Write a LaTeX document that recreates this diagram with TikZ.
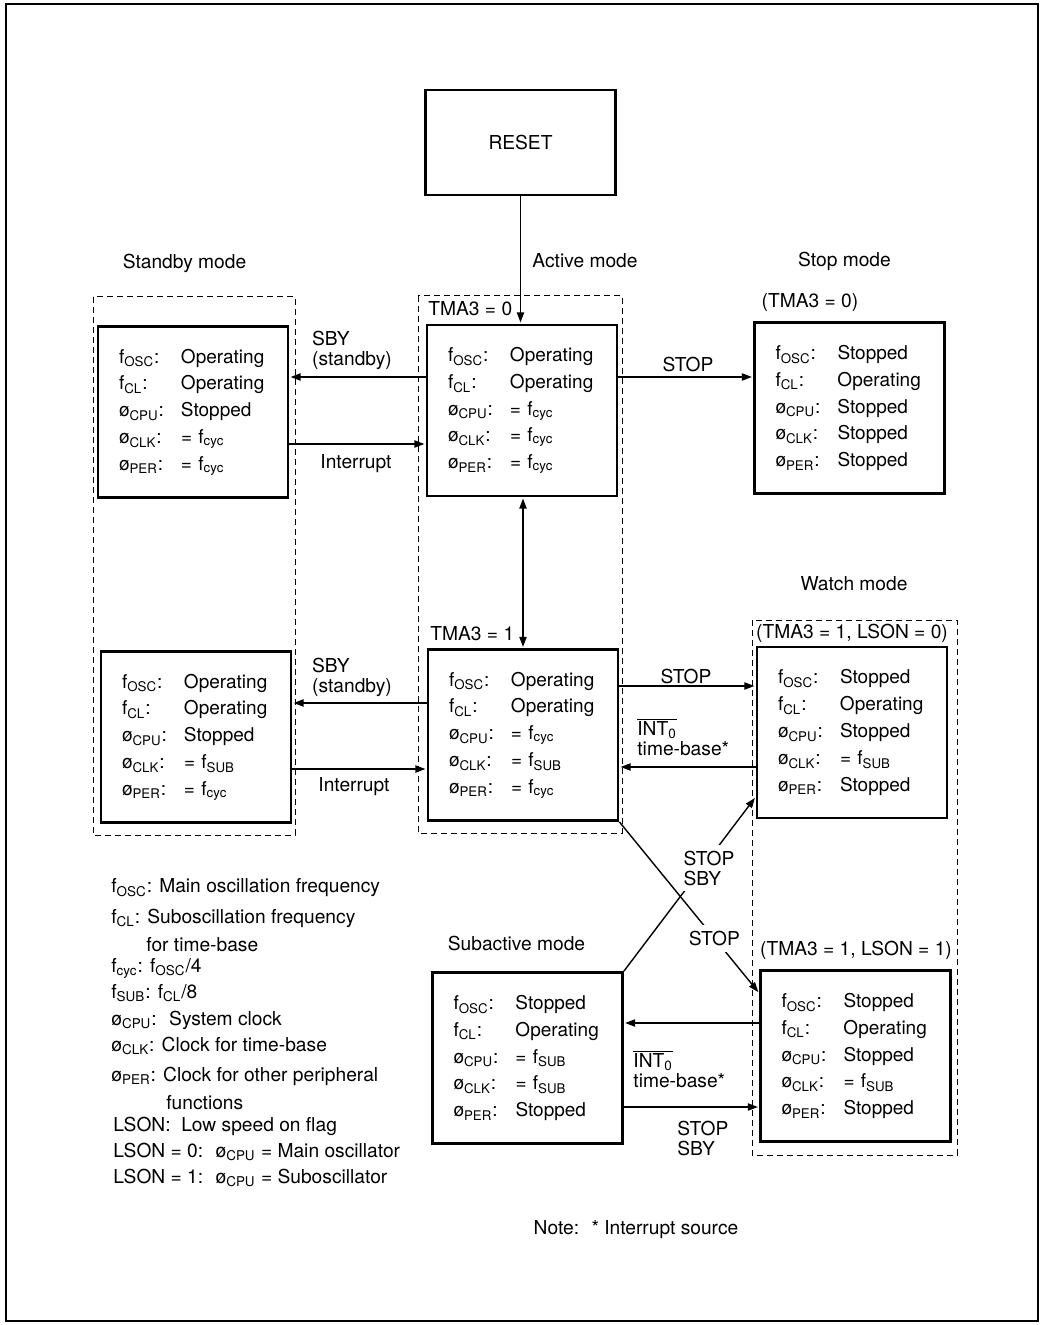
\documentclass[tikz,border=0pt]{standalone}
\usepackage{fontspec}
\setmainfont{TeX Gyre Heros}
\usetikzlibrary{arrows.meta}
\newcommand\sbs[1]{\textsubscript{#1}}
\newcommand\ovl[1]{$\overline{\hbox{#1}}$}
\newcommand\rowl[2]{\makebox[31pt][l]{#1}#2}
\newcommand\xfosc{f\sbs{OSC}:}
\newcommand\xfcl{f\sbs{CL}:}
\newcommand\xpcpu{ø\sbs{CPU}:}
\newcommand\xpclk{ø\sbs{CLK}:}
\newcommand\xpper{ø\sbs{PER}:}
\newcommand\xfcyc{= f\sbs{cyc}}
\newcommand\xfsub{= f\sbs{SUB}}
\newcommand\statetext[5]{\rowl{\xfosc}{#1}\\\rowl{\xfcl}{#2}\\\rowl{\xpcpu}{#3}\\\rowl{\xpclk}{#4}\\\rowl{\xpper}{#5}}
\tikzset{
  statebox/.style={draw, line width=1.4pt, minimum width=95pt, minimum height=85.5pt,
    text width=74pt, align=left, inner sep=0pt, font=\fontsize{9.5}{13.4}\selectfont},
  groupbox/.style={draw, dash pattern=on 3pt off 2pt, line width=0.5pt},
  arr/.style={-{Triangle[length=5pt,width=3.6pt]}, line width=0.7pt, shorten >=0.6pt},
  darr/.style={{Triangle[length=5pt,width=3.6pt]}-{Triangle[length=5pt,width=3.6pt]}, line width=0.7pt, shorten >=0.6pt, shorten <=0.6pt},
  lbl/.style={font=\fontsize{9.6}{10}\selectfont, inner sep=1pt, align=left},
  cutlbl/.style={lbl, fill=white, inner sep=3pt},
}
\begin{document}
\begin{tikzpicture}[x=0.5pt, y=-0.5pt]
\useasboundingbox (0,0) rectangle (1042,1325);
% outer frame
\draw[line width=1.2pt] (6,4) rectangle (1038,1321);

% group (dashed) boxes
\draw[groupbox] (93,297) rectangle (295,835);
\draw[groupbox] (418,296) rectangle (622,833);
\draw[groupbox] (752,620) rectangle (957,1155);

% reset
\node[draw, line width=1.3pt, minimum width=95pt, minimum height=52.5pt, font=\fontsize{9.6}{10}\selectfont, inner sep=0pt]
  (reset) at (520.5,142.5) {RESET};

% state boxes
\node[statebox] (actU) at (522,410.5) {\statetext{Operating}{Operating}{\xfcyc}{\xfcyc}{\xfcyc}};
\node[statebox] (sbyU) at (193,412) {\statetext{Operating}{Operating}{Stopped}{\xfcyc}{\xfcyc}};
\node[statebox] (stop) at (849.5,408) {\statetext{Stopped}{Operating}{Stopped}{Stopped}{Stopped}};
\node[statebox] (actL) at (523,735) {\statetext{Operating}{Operating}{\xfcyc}{\xfsub}{\xfcyc}};
\node[statebox] (sbyL) at (196,737) {\statetext{Operating}{Operating}{Stopped}{\xfsub}{\xfcyc}};
\node[statebox] (watU) at (852,732.5) {\statetext{Stopped}{Operating}{Stopped}{\xfsub}{Stopped}};
\node[statebox] (watL) at (855.5,1056) {\statetext{Stopped}{Operating}{Stopped}{\xfsub}{Stopped}};
\node[statebox] (sub) at (527.5,1058) {\statetext{Stopped}{Operating}{\xfsub}{\xfsub}{Stopped}};

% mode titles
\node[lbl] (tStandby) at (184.5,263) {Standby mode};
\node[lbl] (tActive) at (585,261) {Active mode};
\node[lbl] (tStop) at (844.5,261) {Stop mode};
\node[lbl] (tWatch) at (854,584) {Watch mode};
\node[lbl] (tSub) at (516.5,943) {Subactive mode};

% condition labels
\node[lbl, anchor=west] (c0) at (426,309) {TMA3 = 0};
\node[lbl, anchor=west] (c1) at (428,634) {TMA3 = 1};
\node[lbl] (c2) at (810,303) {(TMA3 = 0)};
\node[lbl] (c3) at (852,633) {(TMA3 = 1, LSON = 0)};
\node[lbl] (c4) at (856,950) {(TMA3 = 1, LSON = 1)};

% helper levels
\coordinate (h377) at (0,377);
\coordinate (h444) at (0,444);
\coordinate (h686) at (0,686);
\coordinate (h703) at (0,703);
\coordinate (h767) at (0,767);
\coordinate (h769) at (0,769);
\coordinate (h797) at (0,797);
\coordinate (h993) at (0,993);
\coordinate (h1023) at (0,1023);
\coordinate (h1107) at (0,1107);

% connectors
\draw[arr] (reset.south) -- (reset.south |- actU.north);
\draw[darr] (actL.north |- actU.south) -- (actL.north);
\draw[arr] (actU.west |- h377) -- (sbyU.east |- h377);
\draw[arr] (sbyU.east |- h444) -- (actU.west |- h444);
\draw[arr] (actU.east |- h377) -- (stop.west |- h377);
\draw[arr] (actL.west |- h703) -- (sbyL.east |- h703);
\draw[arr] (sbyL.east |- h769) -- (actL.west |- h769);
\draw[arr] (actL.east |- h686) -- (watU.west |- h686);
\draw[arr] (watU.west |- h767) -- (actL.east |- h767);
\draw[arr] (watL.west |- h1023) -- (sub.east |- h1023);
\draw[arr] (sub.east |- h1107) -- (watL.west |- h1107);
\draw[arr] (sub.north east) -- (watU.west |- h797);
\draw[arr] (actL.south east) -- node[cutlbl, pos=0.68] (lStop3) {STOP} (watL.west |- h993);

% connector labels
\node[lbl] (lSby1) at (352,350) {SBY\\(standby)};
\node[lbl] (lInt1) at (356,464) {Interrupt};
\node[lbl] (lSby2) at (352,677) {SBY\\(standby)};
\node[lbl] (lInt2) at (354,787) {Interrupt};
\node[lbl] (lStop1) at (688,365) {STOP};
\node[lbl] (lStop2) at (686,676) {STOP};
\node[lbl, anchor=west] (lInt3) at (635,737) {\ovl{INT\sbs{0}}\\time-base*};
\node[cutlbl] (lStopSby1) at (709,868) {STOP\\SBY};
\node[lbl, anchor=west] (lInt4) at (631,1069) {\ovl{INT\sbs{0}}\\time-base*};
\node[lbl, anchor=west] (lStopSby2) at (675,1138) {STOP\\SBY};

% legend
\begin{scope}[every node/.style={lbl, anchor=west}]
\node (g1) at (109,888) {f\sbs{OSC}: Main oscillation frequency};
\node (g2) at (109,918) {f\sbs{CL}: Suboscillation frequency};
\node (g3) at (144,945) {for time-base};
\node (g4) at (109,968) {f\sbs{cyc}: f\sbs{OSC}/4};
\node (g5) at (109,993) {f\sbs{SUB}: f\sbs{CL}/8};
\node (g6) at (109,1020) {ø\sbs{CPU}: \ System clock};
\node (g7) at (109,1046) {ø\sbs{CLK}: Clock for time-base};
\node (g8) at (109,1076) {ø\sbs{PER}: Clock for other peripheral};
\node (g9) at (164,1103) {functions};
\node (g10) at (111,1126) {LSON: \ Low speed on flag};
\node (g11) at (111,1152) {LSON = 0: \ ø\sbs{CPU} = Main oscillator};
\node (g12) at (111,1178) {LSON = 1: \ ø\sbs{CPU} = Suboscillator};
\end{scope}

\node[lbl] (note) at (636,1230) {Note: \ * Interrupt source};
\end{tikzpicture}
\end{document}
